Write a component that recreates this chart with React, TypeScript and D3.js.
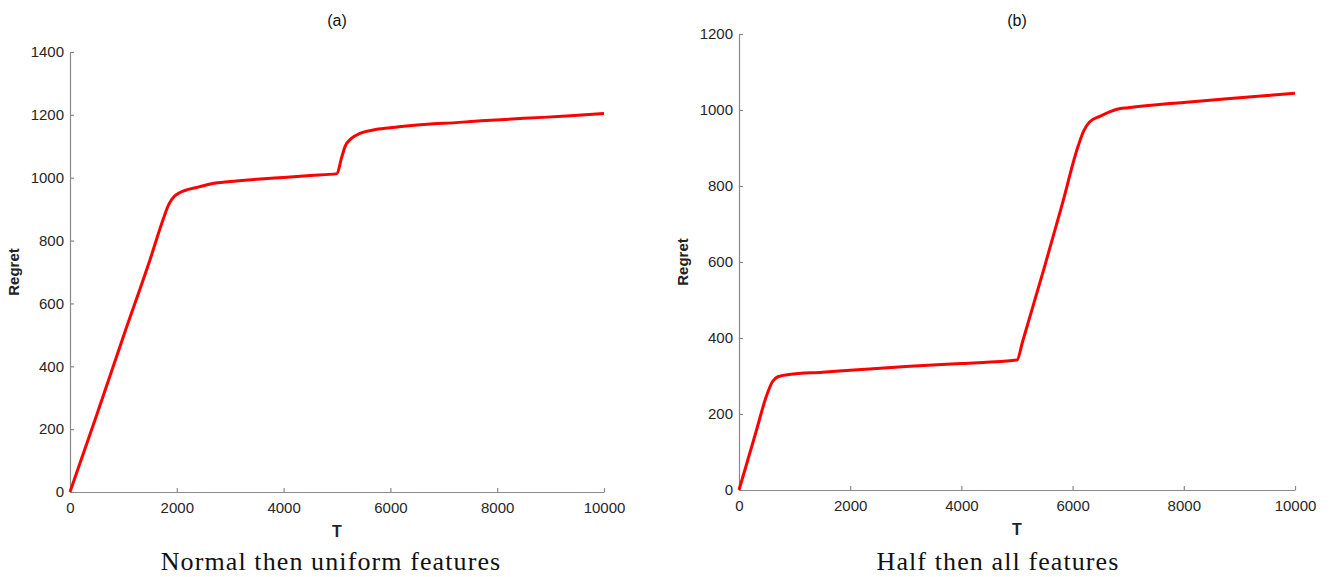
import React, { useRef, useEffect } from 'react';
import * as d3 from 'd3';

// panel (a): normal then uniform features
const tA = [0, 500, 1000, 1500, 1750, 1850, 1950, 2050, 2200, 2400, 2650, 3000, 3500, 4000, 4500, 5000, 5080, 5150, 5270, 5430, 5680, 6000, 6250, 6750, 7000, 7700, 8500, 9300, 10000];
const regretA = [0, 245, 495, 740, 870, 915, 940, 952, 962, 970, 981, 988, 995, 1001, 1007, 1013, 1060, 1099, 1125, 1141, 1152, 1159, 1164, 1171, 1173, 1181, 1189, 1196, 1204];

// panel (b): half then all features
const tB = [0, 300, 500, 600, 700, 900, 1500, 2000, 3000, 4000, 5000, 5100, 5500, 5800, 6100, 6200, 6300, 6500, 6800, 7000, 8000, 9000, 10000];
const regretB = [0, 150, 250, 285, 298, 304, 310, 315, 325, 333, 342, 390, 590, 745, 905, 945, 968, 984, 1002, 1006, 1020, 1032, 1044];

const xTicks = [0, 2000, 4000, 6000, 8000, 10000];
const yTicksA = [0, 200, 400, 600, 800, 1000, 1200, 1400];
const yTicksB = [0, 200, 400, 600, 800, 1000, 1200];

const titles = ['(a)', '(b)'];
const captions = ['Normal then uniform features', 'Half then all features'];

const W = 1333, H = 577;

export default function App() {
  const svgRef = useRef<SVGSVGElement>(null);

  useEffect(() => {
    const svg = d3.select(svgRef.current);
    svg.selectAll('*').remove();

    const panels = [
      { t: tA, r: regretA, yMax: 1400, yTicks: yTicksA, x0: 70, x1: 604, y0: 492, y1: 52, capX: 331 },
      { t: tB, r: regretB, yMax: 1200, yTicks: yTicksB, x0: 739, x1: 1295, y0: 490, y1: 34, capX: 998 },
    ];

    panels.forEach((p, i) => {
      const x = d3.scaleLinear().domain([0, 10000]).range([p.x0, p.x1]);
      const y = d3.scaleLinear().domain([0, p.yMax]).range([p.y0, p.y1]);
      const g = svg.append('g');
      const font = '"Liberation Sans", Arial, sans-serif';

      const xAxis = g.append('g')
        .attr('transform', `translate(0,${p.y0})`)
        .call(d3.axisBottom(x).tickValues(xTicks).tickSizeInner(-4).tickSizeOuter(0).tickPadding(10).tickFormat(d3.format('d')));
      const yAxis = g.append('g')
        .attr('transform', `translate(${p.x0},0)`)
        .call(d3.axisLeft(y).tickValues(p.yTicks).tickSizeInner(-4).tickSizeOuter(0).tickPadding(6).tickFormat(d3.format('d')));

      [xAxis, yAxis].forEach(a => {
        a.select('.domain').attr('stroke', '#8a8a8a').attr('stroke-width', 1.2);
        a.selectAll('.tick line').attr('stroke', '#8a8a8a').attr('stroke-width', 1.2);
        a.selectAll('.tick text').attr('fill', '#262626').style('font-family', font).style('font-size', '15px');
      });

      const line = d3.line<number>()
        .x((_, j) => x(p.t[j]))
        .y(d => y(d))
        .curve(d3.curveMonotoneX);

      g.append('path')
        .datum(p.r)
        .attr('d', line)
        .attr('fill', 'none')
        .attr('stroke', '#ff0000')
        .attr('stroke-width', 3)
        .attr('stroke-linejoin', 'round');

      const cx = (p.x0 + p.x1) / 2;
      g.append('text')
        .attr('x', cx).attr('y', 26)
        .attr('text-anchor', 'middle')
        .style('font-family', font).style('font-size', '16px').attr('fill', '#111')
        .text(titles[i]);

      g.append('text')
        .attr('x', cx).attr('y', p.y0 + 45)
        .attr('text-anchor', 'middle')
        .style('font-family', font).style('font-size', '16px').style('font-weight', 'bold').attr('fill', '#222')
        .text('T');

      g.append('text')
        .attr('transform', `translate(${p.x0 - 51},${(p.y0 + p.y1) / 2}) rotate(-90)`)
        .attr('text-anchor', 'middle')
        .style('font-family', font).style('font-size', '15px').style('font-weight', 'bold').attr('fill', '#222')
        .text('Regret');

      g.append('text')
        .attr('x', p.capX).attr('y', 570)
        .attr('text-anchor', 'middle')
        .style('font-family', '"Liberation Serif", "DejaVu Serif", serif').style('font-size', '26px')
        .style('letter-spacing', '1.1px').attr('fill', '#111')
        .text(captions[i]);
    });
  }, []);

  return (
    <svg ref={svgRef} width={W} height={H} style={{ position: 'absolute', left: 0, top: 0, background: '#fff' }} />
  );
}
